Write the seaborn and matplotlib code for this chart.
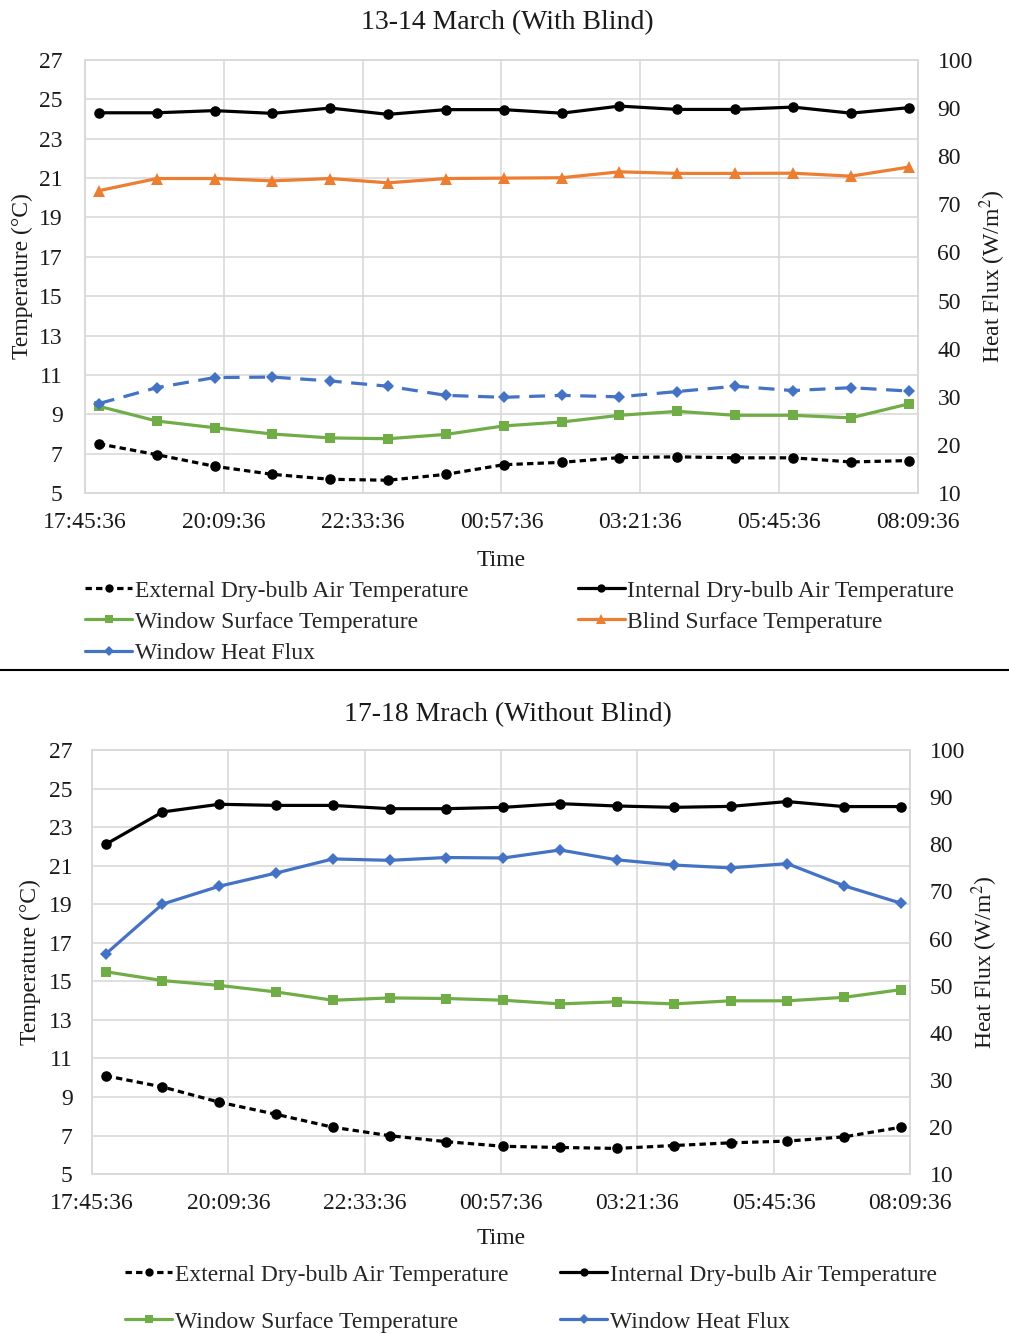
import pandas as pd
import matplotlib.pyplot as plt
import matplotlib.dates as mdates
from matplotlib.lines import Line2D
import seaborn as sns

# hourly readings
times = ["18:00", "19:00", "20:00", "21:00", "22:00", "23:00", "00:00", "01:00",
         "02:00", "03:00", "04:00", "05:00", "06:00", "07:00", "08:00"]
tick_labels = ["17:45:36", "20:09:36", "22:33:36", "00:57:36", "03:21:36", "05:45:36", "08:09:36"]

# 13-14 March (with blind)
ext_a = [7.50, 6.95, 6.36, 5.95, 5.70, 5.65, 5.95, 6.44, 6.56, 6.80, 6.84, 6.79, 6.79, 6.58, 6.65]
int_a = [24.32, 24.32, 24.43, 24.29, 24.56, 24.24, 24.48, 24.48, 24.30, 24.66, 24.49, 24.49, 24.61, 24.30, 24.58]
win_a = [9.41, 8.66, 8.32, 8.00, 7.80, 7.76, 7.98, 8.41, 8.61, 8.95, 9.15, 8.95, 8.95, 8.82, 9.53]
blind_a = [20.36, 20.98, 20.98, 20.86, 20.98, 20.76, 20.98, 21.00, 21.02, 21.32, 21.24, 21.24, 21.25, 21.10, 21.56]
flux_a = [28.6, 31.9, 34.0, 34.1, 33.3, 32.2, 30.3, 29.9, 30.3, 30.0, 31.1, 32.2, 31.3, 31.9, 31.2]

# 17-18 March (without blind)
ext_b = [10.10, 9.52, 8.73, 8.10, 7.43, 6.99, 6.68, 6.44, 6.38, 6.33, 6.48, 6.62, 6.71, 6.93, 7.43]
int_b = [22.11, 23.79, 24.19, 24.13, 24.13, 23.96, 23.96, 24.03, 24.22, 24.10, 24.03, 24.08, 24.33, 24.07, 24.07]
win_b = [15.50, 15.04, 14.79, 14.45, 14.02, 14.14, 14.11, 14.02, 13.83, 13.94, 13.83, 13.99, 13.99, 14.17, 14.57]
flux_b = [56.7, 67.3, 71.1, 73.9, 76.9, 76.6, 77.2, 77.1, 78.8, 76.7, 75.6, 75.0, 75.9, 71.2, 67.5]

BLACK = "#000000"
GREEN = "#70AD47"
ORANGE = "#ED7D31"
BLUE = "#4472C4"
GRID = "#d9d9d9"
TXT = "#1a1a1a"
FS = 17
TITLE_FS = 20


def to_dt(t):
    d = pd.Timestamp("2000-01-01 " + t)
    if d.hour < 12:
        d = d + pd.Timedelta(days=1)
    return d


x = pd.Series([to_dt(t) for t in times])
ticks = [to_dt(t) for t in tick_labels]

sns.set_theme(style="whitegrid")
plt.rcParams["font.family"] = ["Liberation Serif", "DejaVu Serif"]
plt.rcParams["mathtext.fontset"] = "stix"

fig = plt.figure(figsize=(10.09, 13.34), dpi=100)


def draw_series(ax, vals, color, marker, ms, label, dashes=None):
    sns.lineplot(x=x, y=vals, ax=ax, color=color, marker=marker, markersize=ms,
                 markeredgecolor=color, markeredgewidth=0, linewidth=2.3,
                 legend=False, label=label)
    line = ax.lines[-1]
    if dashes:
        line.set_dashes(dashes)
    return line


def style_axes(ax, ax2, pad_left, pad_right, pad_x):
    ax.set_xlim(ticks[0], ticks[-1])
    ax.set_xticks(ticks)
    ax.xaxis.set_major_formatter(mdates.DateFormatter("%H:%M:%S"))
    ax.set_ylim(5, 27)
    ax.set_yticks(range(5, 28, 2))
    ax2.set_ylim(10, 100)
    ax2.set_yticks(range(10, 101, 10))
    ax.grid(True, color=GRID, linewidth=1.2)
    ax2.grid(False)
    for a in (ax, ax2):
        for s in a.spines.values():
            s.set_color(GRID)
            s.set_linewidth(1.2)
    ax.tick_params(axis="y", length=0, pad=pad_left, labelsize=FS, colors=TXT)
    ax.tick_params(axis="x", length=0, pad=pad_x, labelsize=FS, colors=TXT)
    ax2.tick_params(axis="y", length=0, pad=pad_right, labelsize=FS, colors=TXT)
    ax.set_xlabel("Time", fontsize=FS, color=TXT, va="center")
    ax.set_ylabel("Temperature (°C)", fontsize=FS, color=TXT, va="center")
    ax2.set_ylabel("Heat Flux (W/m$^2$)", fontsize=FS, color=TXT, va="center")


def proxy(color, marker, ms, dashes=None):
    h = Line2D([], [], color=color, marker=marker, markersize=ms, markeredgewidth=0, linewidth=2.3)
    if dashes:
        h.set_dashes(dashes)
    return h


# ---- top panel ----
ax = fig.add_axes([0.0842, 0.6304, 0.8256, 0.3246])
ax2 = ax.twinx()
draw_series(ax, ext_a, BLACK, "o", 7.6, "External Dry-bulb Air Temperature", [2, 1.3])
draw_series(ax, win_a, GREEN, "s", 7.2, "Window Surface Temperature")
draw_series(ax, int_a, BLACK, "o", 7.6, "Internal Dry-bulb Air Temperature")
draw_series(ax, blind_a, ORANGE, "^", 8.2, "Blind Surface Temperature")
draw_series(ax2, flux_a, BLUE, "D", 6.4, "Window Heat Flux", [5, 3])
style_axes(ax, ax2, 16, 14, 14)
ax.xaxis.set_label_coords(0.5, -(560 - 493) / 433)
ax.yaxis.set_label_coords((22 - 85) / 833, 0.5)
ax2.yaxis.set_label_coords((993 - 85) / 833, 0.5)
fig.text(0.503, 1 - 23 / 1334, "13-14 March (With Blind)", ha="center", va="center",
         fontsize=TITLE_FS, color=TXT)

labels_a = ["External Dry-bulb Air Temperature", "Window Surface Temperature", "Window Heat Flux",
            "Internal Dry-bulb Air Temperature", "Blind Surface Temperature"]
handles_a = [proxy(BLACK, "o", 6, [2, 1.3]), proxy(GREEN, "s", 6), proxy(BLUE, "D", 5.5),
             proxy(BLACK, "o", 6), proxy(ORANGE, "^", 6.5)]
fig.legend(handles_a, labels_a,
           loc="upper left", bbox_to_anchor=(85 / 1009, 1 - 580 / 1334), ncol=2,
           frameon=False, fontsize=FS, handlelength=2.0, handletextpad=0.1,
           columnspacing=4.65, labelspacing=0.41, borderaxespad=0, borderpad=0)

# separator line
fig.add_artist(Line2D([0, 1], [1 - 670 / 1334, 1 - 670 / 1334], color="black", linewidth=1.5))

# ---- bottom panel ----
bx = fig.add_axes([0.0912, 0.1199, 0.8107, 0.3178])
bx2 = bx.twinx()
draw_series(bx, ext_b, BLACK, "o", 7.6, "External Dry-bulb Air Temperature", [2, 1.3])
draw_series(bx, win_b, GREEN, "s", 7.2, "Window Surface Temperature")
draw_series(bx, int_b, BLACK, "o", 7.6, "Internal Dry-bulb Air Temperature")
draw_series(bx2, flux_b, BLUE, "D", 6.4, "Window Heat Flux")
style_axes(bx, bx2, 14, 14, 14)
bx.xaxis.set_label_coords(0.5, -(1238 - 1174) / 424)
bx.yaxis.set_label_coords((30 - 92) / 818, 0.5)
bx2.yaxis.set_label_coords((985 - 92) / 818, 0.5)
fig.text(0.503, 1 - 715 / 1334, "17-18 Mrach (Without Blind)", ha="center", va="center",
         fontsize=TITLE_FS, color=TXT)

labels_b = ["External Dry-bulb Air Temperature", "Window Surface Temperature",
            "Internal Dry-bulb Air Temperature", "Window Heat Flux"]
handles_b = [proxy(BLACK, "o", 6, [2, 1.3]), proxy(GREEN, "s", 6),
             proxy(BLACK, "o", 6), proxy(BLUE, "D", 5.5)]
fig.legend(handles_b, labels_b,
           loc="upper left", bbox_to_anchor=(125 / 1009, 1 - 1264 / 1334), ncol=2,
           frameon=False, fontsize=FS, handlelength=2.0, handletextpad=0.1,
           columnspacing=2.2, labelspacing=1.08, borderaxespad=0, borderpad=0)

fig.savefig("out.png", dpi=100)
